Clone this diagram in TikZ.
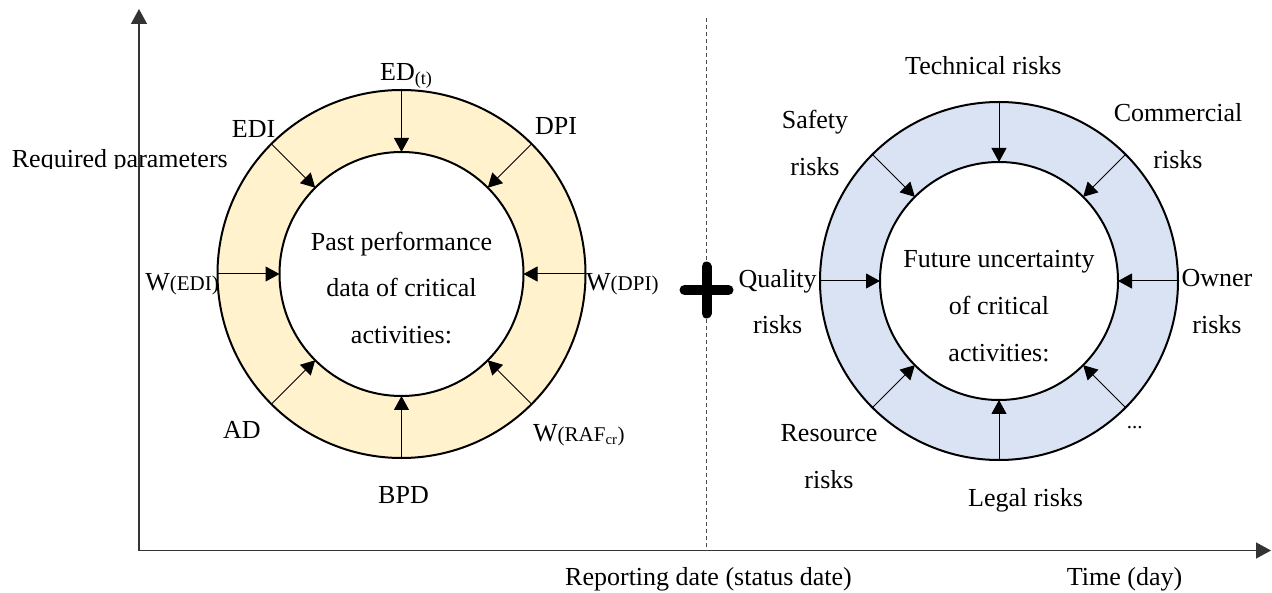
\documentclass[tikz,border=0pt]{standalone}
\usepackage{fontspec}
\setmainfont{Liberation Serif}
\usetikzlibrary{arrows.meta}
\definecolor{pastfill}{HTML}{FFF2CC}
\definecolor{riskfill}{HTML}{DAE3F3}
\newcommand\wpar[1]{{\fontsize{21}{21}\selectfont(#1)}}
\tikzset{
  ring/.style={circle, draw, line width=2pt, inner sep=0pt, outer sep=0pt},
  flow/.style={-{Triangle[length=14pt,width=15pt]}, line width=1pt},
  axis/.style={{Triangle[length=15pt,width=16pt]}-{Triangle[length=15pt,width=16pt]},
    line width=1.3pt, black!80},
  status/.style={line width=1pt, black!70, dash pattern=on 4pt off 3pt},
  plussign/.style={line width=10pt, line cap=round},
  lbl/.style={font=\fontsize{26}{46.7}\selectfont, inner sep=0pt},
  lbls/.style={lbl, align=center},
}
\begin{document}
\begin{tikzpicture}[x=1pt, y=-1pt]
\useasboundingbox (0,0) rectangle (1272,593);
\begin{scope}
\clip (0,0) rectangle (245,168.5);
\node[lbl, anchor=base west] (ylabel) at (11.7,167.7) {Required parameters};
\end{scope}
\coordinate (ytip) at (139,9);
\coordinate (xtip) at (1271,550.5);
\draw[axis] (ytip) |- (xtip);
\coordinate (stop) at (706.5,18);
\coordinate (sbot) at (706.5,550.5);
\draw[status] (stop) -- (sbot);
\coordinate (plus) at (706.5,290);
\draw[plussign] (plus) ++(-22,0) -- ++(44,0)
	(plus) ++(0,-23.5) -- ++(0,47);
\node[lbl, anchor=base west] (datelabel) at (565,585) {Reporting date (status date)};
\node[lbl, anchor=base west] (timelabel) at (1066.7,585) {Time (day)};
% past performance
\node[ring, fill=pastfill, minimum size=368pt] (pastout) at (401.5,274) {};
\node[ring, fill=white, minimum size=244pt] (pastin) at (401.5,274) {};
\foreach \a in {0,45,...,315} \draw[flow] (pastout.\a) -- (pastin.\a);
\node[lbls] (pasttext) at (401.5,287.8)
	{Past performance\\data of critical\\activities:};
\node[lbl, anchor=base west] (edt) at (380,80.7) {ED\textsubscript{(t)}};
\node[lbl, anchor=base west] (edi) at (231.7,137.3) {EDI};
\node[lbl, anchor=base west] (dpi) at (535,135) {DPI};
\node[lbl, anchor=base east] (wedi) at (219,291) {W\wpar{EDI}};
\node[lbl, anchor=base west] (wdpi) at (586,291) {W\wpar{DPI}};
\node[lbl, anchor=base west] (ad) at (223,438.3) {AD};
\node[lbl, anchor=base west] (bpd) at (378,503.3) {BPD};
\node[lbl, anchor=base west] (wraf) at (533,441.7) {W\wpar{RAF\textsubscript{cr}}};
% future uncertainty
\node[ring, fill=riskfill, minimum size=358pt] (riskout) at (999,281) {};
\node[ring, fill=white, minimum size=238pt] (riskin) at (999,281) {};
\foreach \a in {0,45,...,315} \draw[flow] (riskout.\a) -- (riskin.\a);
\node[lbls] (risktext) at (999,306.1)
	{Future uncertainty\\of critical\\activities:};
\node[lbl, anchor=base west] (technical) at (905,75) {Technical risks};
\node[lbls] (safety) at (815,142.8) {Safety\\risks};
\node[lbls] (commercial) at (1178,136.2) {Commercial\\risks};
\node[lbls] (quality) at (777.7,301.5) {Quality\\risks};
\node[lbls] (owner) at (1217,301.5) {Owner\\risks};
\node[lbls] (resource) at (829,456.5) {Resource\\risks};
\node[lbl, anchor=base west, font=\fontsize{21}{21}\selectfont] (more) at (1126.7,428.3) {...};
\node[lbl, anchor=base west] (legal) at (968,506.7) {Legal risks};
\end{tikzpicture}
\end{document}
